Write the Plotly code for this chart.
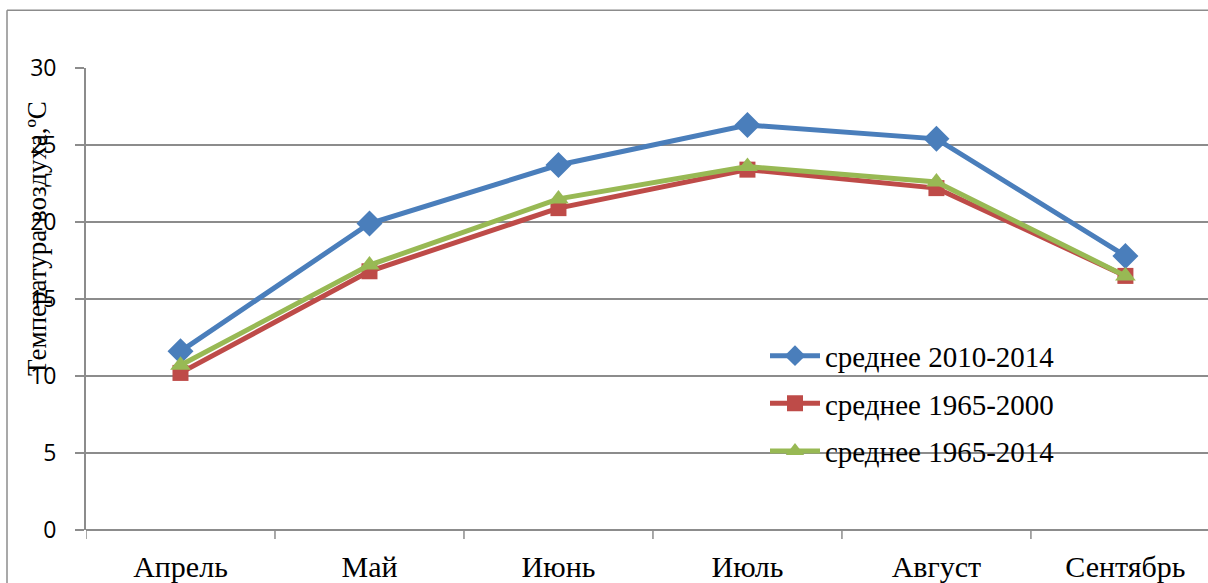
import plotly.graph_objects as go

months = ["Апрель", "Май", "Июнь", "Июль", "Август", "Сентябрь"]
s2010_2014 = [11.6, 19.9, 23.7, 26.3, 25.4, 17.8]
s1965_2000 = [10.2, 16.8, 20.9, 23.4, 22.2, 16.5]
s1965_2014 = [10.7, 17.2, 21.5, 23.6, 22.6, 16.5]
names = ["среднее 2010-2014", "среднее 1965-2000", "среднее 1965-2014"]
y_title = "Температура воздуха,ºС"

colors = ["#4A7EBB", "#BE4B48", "#98B954"]
symbols = ["diamond", "square", "triangle-up"]
sizes = [20, 16, 18]

L, T, B = 86, 68, 50
W, H = 1208, 583
PW, PH = 1122, 465

fig = go.Figure()
for i, (vals, nm) in enumerate(zip([s2010_2014, s1965_2000, s1965_2014], names)):
    fig.add_trace(go.Scatter(
        x=months, y=vals, name=nm, mode="lines+markers",
        legendgroup=f"g{i}",
        line=dict(color=colors[i], width=5),
        marker=dict(symbol=symbols[i], size=sizes[i], color=colors[i]),
    ))

fig.update_layout(
    width=W, height=H,
    margin=dict(l=L, r=0, t=T, b=B, pad=0),
    paper_bgcolor="white", plot_bgcolor="white",
    showlegend=True,
    legend=dict(
        x=(765 - 86) / PW, y=(533 - 332) / PH, xanchor="left", yanchor="top",
        bgcolor="rgba(0,0,0,0)",
        font=dict(family="Liberation Serif", size=29, color="black"),
        tracegroupgap=7,
        itemwidth=50,
    ),
    xaxis=dict(
        type="category", range=[-0.5, 5.437],
        showgrid=False, showline=False, zeroline=False,
        ticks="", tickfont=dict(family="Liberation Serif", size=30, color="black"),
        ticklabelstandoff=16,
    ),
    yaxis=dict(
        range=[0, 30], tickvals=[0, 5, 10, 15, 20, 25, 30],
        showgrid=True, gridcolor="#8C8C8C", gridwidth=1.8,
        showline=True, linecolor="#8C8C8C", linewidth=1.8,
        ticks="outside", ticklen=9, tickcolor="#8C8C8C", tickwidth=1.8,
        zeroline=False,
        tickfont=dict(family="Open Sans", size=23, color="black"),
        ticklabelstandoff=14,
    ),
    annotations=[dict(
        text=y_title, textangle=-90, xref="paper", yref="paper",
        x=(37 - 86) / PW, y=(533 - 240) / PH, xanchor="center", yanchor="middle",
        showarrow=False, font=dict(family="Liberation Serif", size=27, color="black"),
    )],
    shapes=[
        # outer chart frame (left and top edges visible in the crop)
        dict(type="line", xref="paper", yref="paper",
             x0=(7 - 86) / PW, x1=(7 - 86) / PW, y0=-0.3, y1=(533 - 10) / PH,
             line=dict(color="#8C8C8C", width=1.5), layer="below"),
        dict(type="line", xref="paper", yref="paper",
             x0=(7 - 86) / PW, x1=1.2, y0=(533 - 10) / PH, y1=(533 - 10) / PH,
             line=dict(color="#8C8C8C", width=1.5), layer="below"),
        dict(type="line", xref="paper", yref="paper",
             x0=0, x1=1, y0=0, y1=0,
             line=dict(color="#8C8C8C", width=2)),
    ],
)

# category tick marks below x axis
for k in range(7):
    fig.add_shape(type="line", xref="x", yref="paper",
                  x0=k - 0.5, x1=k - 0.5, y0=0, y1=-9 / PH,
                  line=dict(color="#8C8C8C", width=1.5))

fig.write_html(
    "out.html",
    config={"displayModeBar": False},
    post_script="document.body.style.margin='0';document.body.style.overflow='hidden';",
)
